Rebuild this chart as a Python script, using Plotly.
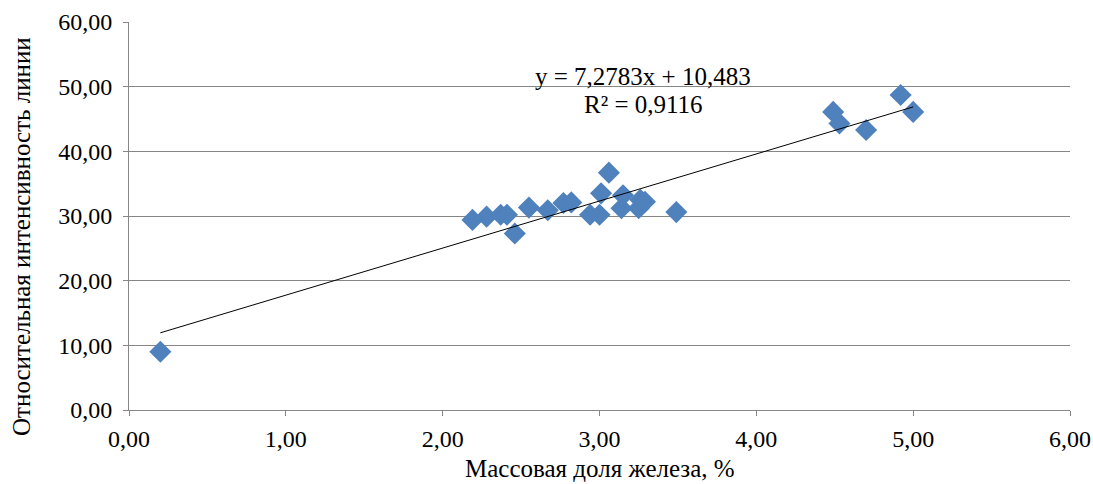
import plotly.graph_objects as go

# Data
mass_fe = [0.20, 2.19, 2.28, 2.37, 2.41, 2.46, 2.55, 2.67, 2.77, 2.82, 2.94, 3.00,
           3.01, 3.06, 3.14, 3.15, 3.25, 3.26, 3.29, 3.49, 4.49, 4.53, 4.70, 4.92, 5.00]
intensity = [9.0, 29.4, 29.9, 30.2, 30.2, 27.3, 31.3, 30.9, 32.0, 32.1, 30.2, 30.2,
             33.5, 36.7, 31.2, 33.2, 31.2, 32.5, 32.2, 30.6, 46.1, 44.3, 43.3, 48.7, 46.1]

slope = 7.2783
intercept = 10.483
r2 = 0.9116

trend_x = [min(mass_fe), max(mass_fe)]
trend_y = [slope * v + intercept for v in trend_x]

x_ticks = [0, 1, 2, 3, 4, 5, 6]
x_labels = ["0,00", "1,00", "2,00", "3,00", "4,00", "5,00", "6,00"]
y_ticks = [0, 10, 20, 30, 40, 50, 60]
y_labels = ["0,00", "10,00", "20,00", "30,00", "40,00", "50,00", "60,00"]

x_title = "Массовая доля железа, %"
y_title = "Относительная интенсивность линии"

font_family = "Liberation Serif, Times New Roman, serif"

fig = go.Figure()
fig.add_trace(go.Scatter(
    x=mass_fe, y=intensity, mode="markers",
    marker=dict(symbol="diamond", size=17, color="#4F81BD"),
    showlegend=False, hoverinfo="x+y"))
fig.add_trace(go.Scatter(
    x=trend_x, y=trend_y, mode="lines",
    line=dict(color="black", width=1), showlegend=False, hoverinfo="skip"))

fig.add_annotation(x=3.28, y=51.5, xref="x", yref="y",
                   text="y = 7,2783x + 10,483", showarrow=False,
                   font=dict(size=25, color="black", family=font_family))
fig.add_annotation(x=3.28, y=47.2, xref="x", yref="y",
                   text="R² = 0,9116", showarrow=False,
                   font=dict(size=25, color="black", family=font_family))

fig.add_annotation(x=0.5, y=-0.1495, xref="paper", yref="paper",
                   text=x_title, showarrow=False, yanchor="middle",
                   font=dict(size=25, color="black", family=font_family))
fig.add_annotation(x=-0.1137, y=0.446, xref="paper", yref="paper",
                   text=y_title, showarrow=False, textangle=-90,
                   xanchor="center", yanchor="middle",
                   font=dict(size=25, color="black", family=font_family))

fig.update_layout(
    width=1093, height=484,
    margin=dict(l=129, r=23, t=22, b=74),
    paper_bgcolor="white", plot_bgcolor="white",
    font=dict(family=font_family, size=24, color="black"),
    xaxis=dict(range=[0, 6], tickvals=x_ticks, ticktext=x_labels,
               showgrid=False, zeroline=False, showline=True,
               linecolor="#868686", linewidth=1, ticks="outside",
               ticklen=5, tickcolor="#868686", automargin=False,
               ticklabelstandoff=2,
               tickfont=dict(size=24, family=font_family)),
    yaxis=dict(range=[0, 60], tickvals=y_ticks, ticktext=y_labels,
               showgrid=True, gridcolor="#868686", gridwidth=1,
               zeroline=False, showline=True,
               linecolor="#868686", linewidth=1, ticks="outside",
               ticklen=5, tickcolor="#868686", automargin=False,
               ticklabelstandoff=6,
               tickfont=dict(size=24, family=font_family)),
)

fig.write_html("out.html",
               config={"displayModeBar": False},
               post_script="document.body.style.margin='0';document.body.style.overflow='hidden';")
